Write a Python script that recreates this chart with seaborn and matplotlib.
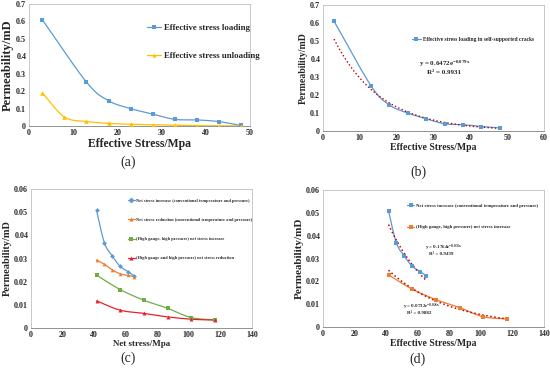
import numpy as np
import pandas as pd
import seaborn as sns
import matplotlib.pyplot as plt
from matplotlib.lines import Line2D

sns.set_style('white')
plt.rcParams['font.family'] = ['Liberation Serif', 'DejaVu Serif']
plt.rcParams['mathtext.fontset'] = 'custom'
plt.rcParams['mathtext.rm'] = 'Liberation Serif'
plt.rcParams['mathtext.bf'] = 'Liberation Serif:bold'
plt.rcParams['mathtext.default'] = 'bf'

# (a) loading / unloading
stress_load = [3, 13, 18, 23, 28, 33, 38, 43, 48]
perm_load = [0.61, 0.252, 0.145, 0.100, 0.068, 0.038, 0.035, 0.025, 0.003]
stress_unload = [3, 8, 13, 18, 23, 28, 33, 38, 43, 48]
perm_unload = [0.190, 0.052, 0.026, 0.015, 0.010, 0.007, 0.004, 0.002, 0.001, 0.001]

# (b) self-supported cracks + exponential trendline
perm_self = [0.61, 0.252, 0.145, 0.100, 0.068, 0.040, 0.035, 0.025, 0.017]
fit_b = (0.6472, 0.079)

# (c) net stress series
net_conv = [41.5, 46.5, 51.5, 56.5, 61.5, 65.5]
perm_conv_inc = [0.0508, 0.0368, 0.0311, 0.0266, 0.0243, 0.0224]
perm_conv_red = [0.0293, 0.0275, 0.0251, 0.0234, 0.0227, 0.0222]
net_high = [41.5, 56.5, 71.5, 86.5, 101.5, 116.5]
perm_high_inc = [0.0228, 0.0166, 0.0120, 0.0085, 0.0045, 0.0035]
perm_high_red = [0.0117, 0.0077, 0.0063, 0.0048, 0.0038, 0.0034]

# (d) trendlines
fit_d1 = (0.1764, 0.033)
fit_d2 = (0.0732, 0.026)

blue = '#5B9BD5'
orange = '#ED7D31'
yellow = '#FFC000'
green = '#70AD47'
red = '#E8202A'
trend = '#C00000'


def smooth(x, y, n=24):
    # excel-like smoothed line through the points (catmull-rom)
    x = np.asarray(x, float)
    y = np.asarray(y, float)
    px = np.r_[2 * x[0] - x[1], x, 2 * x[-1] - x[-2]]
    py = np.r_[2 * y[0] - y[1], y, 2 * y[-1] - y[-2]]
    t = np.linspace(0, 1, n)[:, None]
    out = []
    for i in range(1, len(px) - 2):
        p = np.array([[px[j], py[j]] for j in range(i - 1, i + 3)])
        seg = 0.5 * ((2 * p[1]) + (-p[0] + p[2]) * t
                     + (2 * p[0] - 5 * p[1] + 4 * p[2] - p[3]) * t ** 2
                     + (-p[0] + 3 * p[1] - 3 * p[2] + p[3]) * t ** 3)
        out.append(seg)
    out = np.vstack(out)
    return pd.DataFrame({'x': out[:, 0], 'y': out[:, 1]})


def series(ax, x, y, color, marker, ms):
    sm = smooth(x, y)
    sns.lineplot(data=sm, x='x', y='y', ax=ax, color=color, lw=0.9,
                 sort=False, estimator=None)
    sns.scatterplot(x=x, y=y, ax=ax, color=color, marker=marker, s=ms,
                    linewidth=0, zorder=3)


def style(ax, xlim, xticks, ylim, yticks, yfmt, xlabel, xs, ylabel, ys):
    ax.set_xlim(*xlim)
    ax.set_ylim(*ylim)
    ax.set_xticks(xticks)
    ax.set_yticks(yticks)
    ax.set_yticklabels([yfmt(v) for v in yticks])
    ax.tick_params(length=0, labelsize=5.8, pad=2)
    for lab in ax.get_xticklabels() + ax.get_yticklabels():
        lab.set_fontweight('bold')
    for s in ax.spines.values():
        s.set_color('#BFBFBF')
        s.set_linewidth(0.6)
    ax.spines['bottom'].set_color('#808080')
    ax.set_xlabel(xlabel, fontsize=xs, fontweight='bold', labelpad=1)
    ax.set_ylabel(ylabel, fontsize=ys, fontweight='bold', labelpad=2)


def handle(color, marker):
    return Line2D([], [], color=color, lw=0.9, marker=marker, ms=3,
                  markeredgewidth=0)


def fmt1(v):
    return '0' if v == 0 else f'{v:.1f}'


def fmt2(v):
    return '0' if v == 0 else f'{v:.2f}'


fig = plt.figure(figsize=(5.5, 3.72), dpi=100)

# (a)
ax = fig.add_axes([29 / 550, 1 - 126 / 372, 221 / 550, 122 / 372])
series(ax, stress_load, perm_load, blue, 's', 9)
series(ax, stress_unload, perm_unload, yellow, '^', 11)
style(ax, (0, 50), range(0, 51, 10), (0, 0.7), np.arange(0, 0.71, 0.1), fmt1,
      'Effective Stress/Mpa', 8.5, 'Permeability/mD', 9)
ax.legend([handle(blue, 's'), handle(yellow, '^')],
          ['Effective stress loading', 'Effective stress unloading'],
          loc='upper left', bbox_to_anchor=(0.5, 0.9), frameon=False,
          prop={'size': 6.3, 'weight': 'bold'}, labelspacing=2.3,
          handlelength=1.6, handletextpad=0.3)
fig.text(128 / 550, 1 - 162 / 372, '(a)', ha='center', va='center', fontsize=10)

# (b)
ax = fig.add_axes([323 / 550, 1 - 131 / 372, 221 / 550, 126 / 372])
series(ax, stress_load, perm_self, blue, 's', 8)
xf = np.linspace(stress_load[0], stress_load[-1], 100)
sns.lineplot(x=xf, y=fit_b[0] * np.exp(-fit_b[1] * xf), ax=ax, color=trend,
             lw=1.0, linestyle=':')
style(ax, (0, 60), range(0, 61, 10), (0, 0.7), np.arange(0, 0.71, 0.1), fmt1,
      'Effective Stress/Mpa', 7, 'Permeability/mD', 7)
ax.legend([handle(blue, 's')], ['Effective stress loading in self-supported cracks'],
          loc='center left', bbox_to_anchor=(0.38, 0.73), frameon=False,
          prop={'size': 4, 'weight': 'bold'}, handlelength=1.6, handletextpad=0.3)
ax.text(0.435, 0.535, r'y = 0.6472e$^{-0.079x}$', transform=ax.transAxes,
        fontsize=5, fontweight='bold', ha='left', va='center')
ax.text(0.47, 0.465, 'R² = 0.9931', transform=ax.transAxes,
        fontsize=5, fontweight='bold', ha='left', va='center')
fig.text(418 / 550, 1 - 172 / 372, '(b)', ha='center', va='center', fontsize=10)

# (c)
ax = fig.add_axes([31 / 550, 1 - 328 / 372, 221 / 550, 139 / 372])
series(ax, net_conv, perm_conv_inc, blue, 'D', 6)
series(ax, net_conv, perm_conv_red, orange, '^', 7)
series(ax, net_high, perm_high_inc, green, 's', 6)
series(ax, net_high, perm_high_red, red, '^', 8)
style(ax, (0, 140), range(0, 141, 20), (0, 0.06), np.arange(0, 0.061, 0.01), fmt2,
      'Net stress/Mpa', 6.5, 'Permeability/mD', 7.5)
ax.legend([handle(blue, 'D'), handle(orange, '^'), handle(green, 's'), handle(red, '^')],
          ['Net stress increase (conventional temperature and pressure)',
           'Net stress reduction (conventional temperature and pressure)',
           '(High gauge, high pressure) net stress increase',
           '(High gauge and high pressure) net stress reduction'],
          loc='upper left', bbox_to_anchor=(0.42, 0.96), frameon=False,
          prop={'size': 3.2, 'weight': 'bold'}, labelspacing=3.4,
          handlelength=1.6, handletextpad=0.3)
fig.text(128 / 550, 1 - 358 / 372, '(c)', ha='center', va='center', fontsize=10)

# (d)
ax = fig.add_axes([323 / 550, 1 - 327 / 372, 221 / 550, 137 / 372])
series(ax, net_conv, perm_conv_inc, blue, 's', 9)
series(ax, net_high, perm_high_inc, orange, 's', 9)
for xs_, (a, k) in [(net_conv, fit_d1), (net_high, fit_d2)]:
    xf = np.linspace(xs_[0], xs_[-1], 100)
    sns.lineplot(x=xf, y=a * np.exp(-k * xf), ax=ax, color=trend, lw=1.1,
                 linestyle=':')
style(ax, (0, 140), range(0, 141, 20), (0, 0.06), np.arange(0, 0.061, 0.01), fmt2,
      'Effective Stress/Mpa', 7, 'Permeability/mD', 8)
ax.legend([handle(blue, 's'), handle(orange, 's')],
          ['Net stress increase (conventional temperature and pressure)',
           '(High gauge, high pressure) net stress increase'],
          loc='upper left', bbox_to_anchor=(0.36, 0.93), frameon=False,
          prop={'size': 3.4, 'weight': 'bold'}, labelspacing=3.6,
          handlelength=1.6, handletextpad=0.3)
ax.text(0.46, 0.575, r'y = 0.1764e$^{-0.033x}$', transform=ax.transAxes,
        fontsize=3.6, fontweight='bold', ha='left', va='center')
ax.text(0.48, 0.53, 'R² = 0.9439', transform=ax.transAxes,
        fontsize=3.6, fontweight='bold', ha='left', va='center')
ax.text(0.36, 0.145, r'y = 0.0732e$^{-0.026x}$', transform=ax.transAxes,
        fontsize=3.6, fontweight='bold', ha='left', va='center')
ax.text(0.38, 0.1, 'R² = 0.9882', transform=ax.transAxes,
        fontsize=3.6, fontweight='bold', ha='left', va='center')
fig.text(418 / 550, 1 - 359 / 372, '(d)', ha='center', va='center', fontsize=10)

fig.savefig('out.png', dpi=100)
